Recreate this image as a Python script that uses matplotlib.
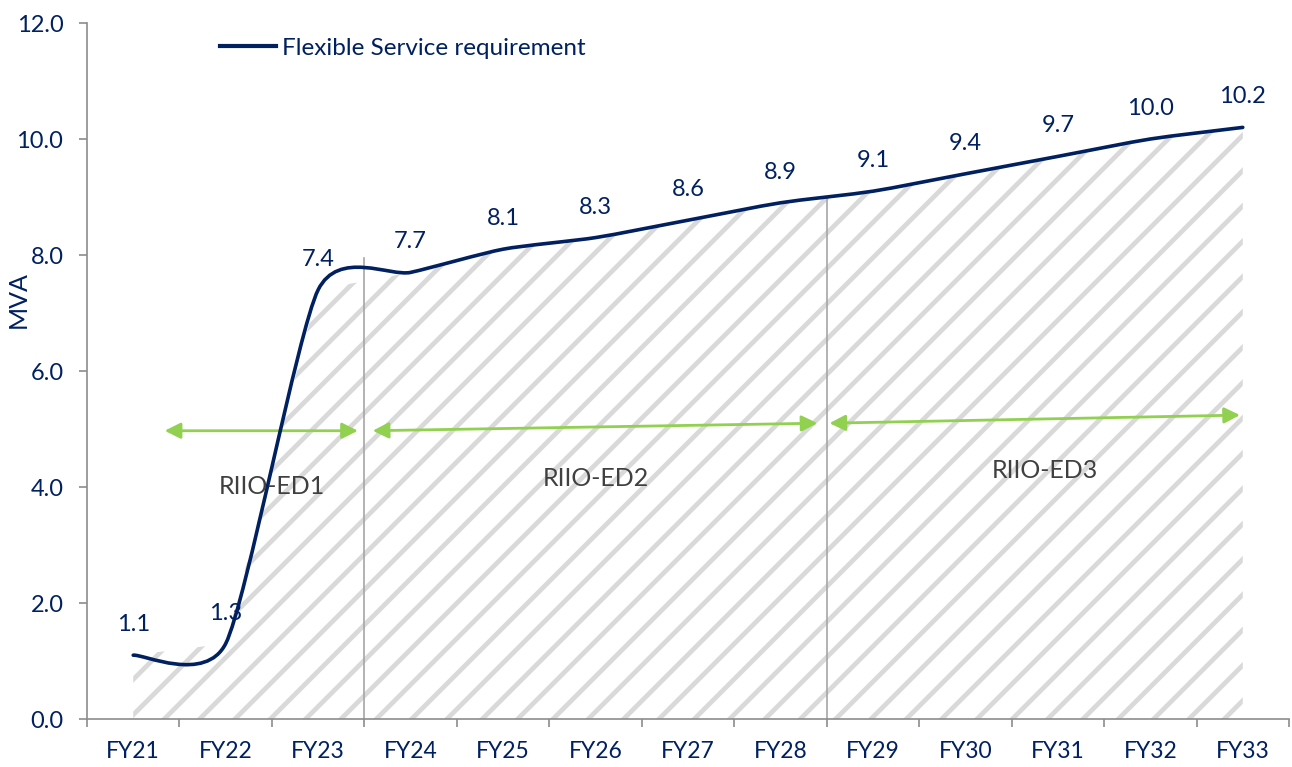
import numpy as np
import matplotlib
matplotlib.use("Agg")
import matplotlib.pyplot as plt
from matplotlib.path import Path
from matplotlib.patches import PathPatch
from matplotlib.lines import Line2D

# data
years = ["FY21", "FY22", "FY23", "FY24", "FY25", "FY26", "FY27",
         "FY28", "FY29", "FY30", "FY31", "FY32", "FY33"]
flex_req = [1.1, 1.3, 7.4, 7.7, 8.1, 8.3, 8.6, 8.9, 9.1, 9.4, 9.7, 10.0, 10.2]
periods = ["RIIO-ED1", "RIIO-ED2", "RIIO-ED3"]
period_edges = [2.5, 7.5]          # boundaries between price control periods
edge_tops = [7.95, 9.0]

navy = "#002060"
green = "#92D050"
axis_grey = "#8C8C8C"

DPI = 106          # hatch spacing follows dpi, this gets it close
S = 100.0 / DPI    # sizes below were worked out at 100 dpi

plt.rcParams["font.family"] = ["Lato", "DejaVu Sans"]
plt.rcParams["hatch.linewidth"] = 3.2

fig = plt.figure(figsize=(1292 / DPI, 767 / DPI), dpi=DPI)
ax = fig.add_axes([87 / 1292, 48 / 767, 1202 / 1292, 696 / 767])

x = np.arange(len(years))
y = np.array(flex_req)

# hatched area underneath
ax.fill_between(x, 0, y, facecolor="white", edgecolor="#D9D9D9",
                hatch="/", linewidth=0, zorder=1)

# smoothed line (cardinal spline, roughly what excel does)
f = 0.11
pts = np.column_stack([x, y]).astype(float)
verts = [pts[0]]
codes = [Path.MOVETO]
n = len(pts)
for i in range(n - 1):
    p0 = pts[i - 1] if i > 0 else pts[i]
    p1 = pts[i]
    p2 = pts[i + 1]
    p3 = pts[i + 2] if i + 2 < n else pts[i + 1]
    c1 = p1 + (p2 - p0) * f
    c2 = p2 - (p3 - p1) * f
    verts += [c1, c2, p2]
    codes += [Path.CURVE4] * 3
ax.add_patch(PathPatch(Path(verts, codes), facecolor="none",
                       edgecolor=navy, linewidth=2.6 * S, zorder=4,
                       capstyle="round"))

# data labels
for xi, v in zip(x, flex_req):
    ax.annotate(f"{v:.1f}", (xi, v), xytext=(0, 22 * S), textcoords="offset points",
                ha="center", va="center", fontsize=17 * S, color=navy, zorder=5)

# period boundaries
for e, top in zip(period_edges, edge_tops):
    ax.plot([e, e], [0, top], color="#A6A6A6", linewidth=1.2 * S, zorder=2)

# arrows for each period
arrow_spans = [((0.34, 4.97), (2.43, 4.97)),
               ((2.59, 4.97), (7.40, 5.10)),
               ((7.53, 5.10), (11.97, 5.24))]
label_pos = [(1.5, 4.0), (5.0, 4.14), (9.86, 4.28)]
for (a, b), name, lp in zip(arrow_spans, periods, label_pos):
    ax.annotate("", xy=b, xytext=a,
                arrowprops=dict(arrowstyle="<|-|>,head_length=0.9,head_width=0.45",
                                color=green, lw=2 * S, shrinkA=0, shrinkB=0),
                zorder=3)
    ax.text(lp[0], lp[1], name, ha="center", va="center", fontsize=18 * S,
            color="#404040", zorder=5)

# axes styling
ax.set_xlim(-0.5, len(years) - 0.5)
ax.set_ylim(0, 12)
ax.set_yticks(np.arange(0, 12.1, 2))
ax.set_yticklabels([f"{t:.1f}" for t in np.arange(0, 12.1, 2)])
ax.set_xticks(x)
ax.set_xticklabels(years)
ax.set_xticks(np.arange(-0.5, len(years)), minor=True)
ax.tick_params(axis="x", which="major", length=0, pad=16 * S, labelsize=16.5 * S,
               labelcolor=navy)
ax.tick_params(axis="x", which="minor", length=6 * S, width=1.2 * S, color=axis_grey)
ax.tick_params(axis="y", length=6 * S, width=1.2 * S, color=axis_grey, pad=11 * S,
               labelsize=17 * S, labelcolor=navy)
for s in ["top", "right"]:
    ax.spines[s].set_visible(False)
for s in ["left", "bottom"]:
    ax.spines[s].set_color(axis_grey)
    ax.spines[s].set_linewidth(1.2 * S)

fig.text(18 / 1292, 1 - 300 / 767, "MVA", rotation=90, ha="center", va="center",
         fontsize=18 * S, color=navy)

handle = Line2D([], [], color=navy, linewidth=3 * S)
ax.legend([handle], ["Flexible Service requirement"], loc="center left",
          bbox_to_anchor=(0.111, 0.964), frameon=False, borderpad=0,
          borderaxespad=0, handlelength=2.3, handletextpad=0.22,
          fontsize=17.5 * S, labelcolor=navy)

fig.savefig("out.png", dpi=DPI)
